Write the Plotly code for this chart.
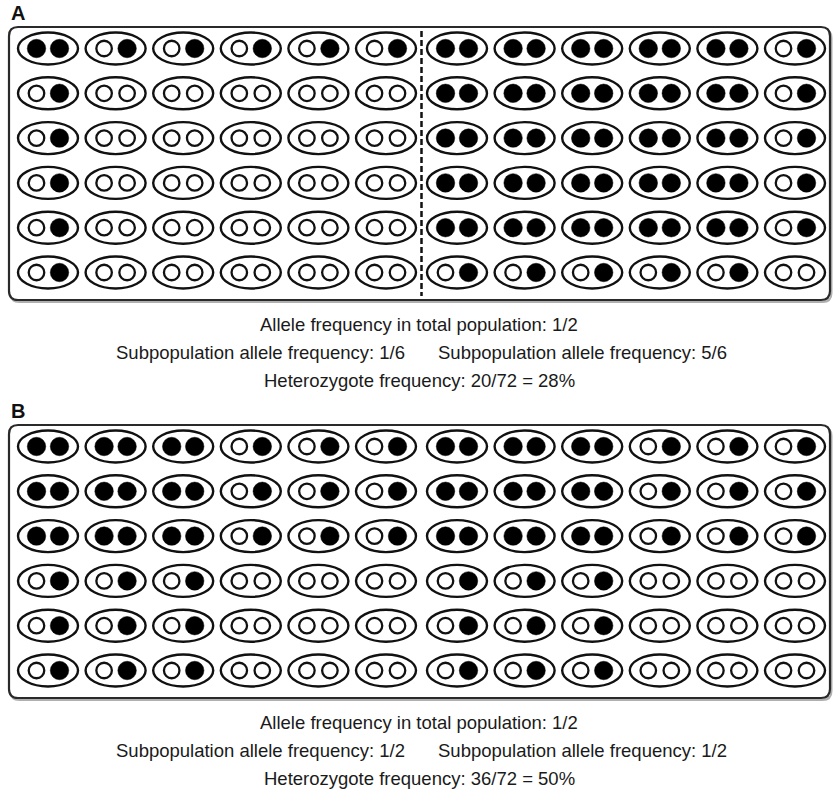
import plotly.graph_objects as go

# Genotype per individual: 0 = two open alleles, 1 = heterozygote (open + filled), 2 = two filled alleles
panel_a = [
    [2, 1, 1, 1, 1, 1, 2, 2, 2, 2, 2, 1],
    [1, 0, 0, 0, 0, 0, 2, 2, 2, 2, 2, 1],
    [1, 0, 0, 0, 0, 0, 2, 2, 2, 2, 2, 1],
    [1, 0, 0, 0, 0, 0, 2, 2, 2, 2, 2, 1],
    [1, 0, 0, 0, 0, 0, 2, 2, 2, 2, 2, 1],
    [1, 0, 0, 0, 0, 0, 1, 1, 1, 1, 1, 0],
]
panel_b = [
    [2, 2, 2, 1, 1, 1, 2, 2, 2, 1, 1, 1],
    [2, 2, 2, 1, 1, 1, 2, 2, 2, 1, 1, 1],
    [2, 2, 2, 1, 1, 1, 2, 2, 2, 1, 1, 1],
    [1, 1, 1, 0, 0, 0, 1, 1, 1, 0, 0, 0],
    [1, 1, 1, 0, 0, 0, 1, 1, 1, 0, 0, 0],
    [1, 1, 1, 0, 0, 0, 1, 1, 1, 0, 0, 0],
]
panel_labels = ["A", "B"]
total_freq_text = ["Allele frequency in total population: 1/2",
                   "Allele frequency in total population: 1/2"]
sub_left_text = ["Subpopulation allele frequency: 1/6",
                 "Subpopulation allele frequency: 1/2"]
sub_right_text = ["Subpopulation allele frequency: 5/6",
                  "Subpopulation allele frequency: 1/2"]
het_text = ["Heterozygote frequency: 20/72 = 28%",
            "Heterozygote frequency: 36/72 = 50%"]
show_divider = [True, False]

# ---- layout geometry (pixels) ----
W, H = 838, 812
col_x = [48 + 67.6 * i for i in range(6)] + [457 + 67.6 * i for i in range(6)]
divider_x = 421.5
row_step = 44.8
panel_offset = [0, 398]
first_row_y = 48.5
ell_w, ell_h = 60, 32
allele_dx = 11.5
box_x0, box_x1 = 9, 830
box_y0, box_y1 = 27, 300
radius = 9
INK = "#111111"
FONT = "Liberation Sans, Arial, Helvetica, sans-serif"
TXT = 18.5

shapes = []
annotations = []
open_x, open_y, fill_x, fill_y = [], [], [], []


def rounded_rect(x0, y0, x1, y1, r):
    return (f"M {x0+r},{y0} L {x1-r},{y0} Q {x1},{y0} {x1},{y0+r} "
            f"L {x1},{y1-r} Q {x1},{y1} {x1-r},{y1} L {x0+r},{y1} "
            f"Q {x0},{y1} {x0},{y1-r} L {x0},{y0+r} Q {x0},{y0} {x0+r},{y0} Z")


for p, grid in enumerate([panel_a, panel_b]):
    off = panel_offset[p]
    shapes.append(dict(type="path", layer="below",
                       path=rounded_rect(box_x0 + 1.5, box_y0 + off + 2, box_x1 + 1.5, box_y1 + off + 2, radius),
                       line=dict(color="#b0b0b0", width=2), xref="x", yref="y"))
    shapes.append(dict(type="path", layer="below",
                       path=rounded_rect(box_x0, box_y0 + off, box_x1, box_y1 + off, radius),
                       line=dict(color="#2a2a2a", width=2.2), fillcolor="white", xref="x", yref="y"))
    for r, row in enumerate(grid):
        cy = first_row_y + off + r * row_step
        for c, g in enumerate(row):
            cx = col_x[c]
            shapes.append(dict(type="circle", layer="above", xref="x", yref="y",
                               x0=cx - ell_w / 2, x1=cx + ell_w / 2,
                               y0=cy - ell_h / 2, y1=cy + ell_h / 2,
                               line=dict(color=INK, width=2.4)))
            if g == 2:
                fill_x.append(cx - allele_dx); fill_y.append(cy)
            else:
                open_x.append(cx - allele_dx); open_y.append(cy)
            if g >= 1:
                fill_x.append(cx + allele_dx); fill_y.append(cy)
            else:
                open_x.append(cx + allele_dx); open_y.append(cy)
    if show_divider[p]:
        shapes.append(dict(type="line", xref="x", yref="y", layer="above",
                           x0=divider_x, x1=divider_x, y0=31 + off, y1=296 + off,
                           line=dict(color=INK, width=2.5, dash="6px,3px")))
    annotations.append(dict(x=9, y=13 + off, text=f"<b>{panel_labels[p]}</b>", showarrow=False,
                            xanchor="left", yanchor="middle",
                            font=dict(family=FONT, size=20, color="#111")))
    annotations.append(dict(x=419, y=324 + off, text=total_freq_text[p], showarrow=False,
                            xanchor="center", yanchor="middle",
                            font=dict(family=FONT, size=TXT, color="#1a1a1a")))
    annotations.append(dict(x=260, y=352 + off, text=sub_left_text[p], showarrow=False,
                            xanchor="center", yanchor="middle",
                            font=dict(family=FONT, size=TXT, color="#1a1a1a")))
    annotations.append(dict(x=582, y=352 + off, text=sub_right_text[p], showarrow=False,
                            xanchor="center", yanchor="middle",
                            font=dict(family=FONT, size=TXT, color="#1a1a1a")))
    annotations.append(dict(x=419, y=380 + off, text=het_text[p], showarrow=False,
                            xanchor="center", yanchor="middle",
                            font=dict(family=FONT, size=TXT, color="#1a1a1a")))

fig = go.Figure()
fig.add_trace(go.Scatter(x=open_x, y=open_y, mode="markers", hoverinfo="skip",
                         marker=dict(symbol="circle", size=15.5, color="white",
                                     line=dict(color=INK, width=2.3)),
                         showlegend=False, cliponaxis=False))
fig.add_trace(go.Scatter(x=fill_x, y=fill_y, mode="markers", hoverinfo="skip",
                         marker=dict(symbol="circle", size=18.5, color="black",
                                     line=dict(color="black", width=0.5)),
                         showlegend=False, cliponaxis=False))

fig.update_layout(
    width=W, height=H, margin=dict(l=0, r=0, t=0, b=0),
    paper_bgcolor="white", plot_bgcolor="white",
    xaxis=dict(range=[0, W], visible=False, fixedrange=True),
    yaxis=dict(range=[H, 0], visible=False, fixedrange=True),
    shapes=shapes, annotations=annotations,
)
fig.write_html("out.html", config={"displayModeBar": False},
               post_script="document.body.style.margin='0';document.body.style.overflow='hidden';")
